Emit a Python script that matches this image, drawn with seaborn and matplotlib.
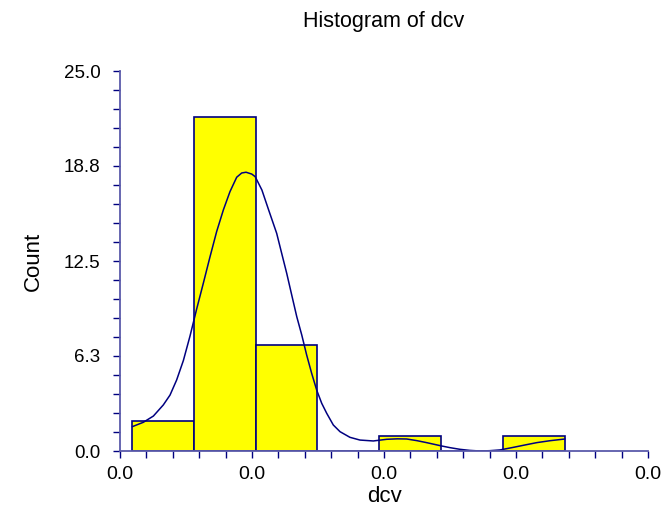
import matplotlib
matplotlib.use("Agg")
import matplotlib.pyplot as plt
from matplotlib.ticker import MultipleLocator
import seaborn as sns

# ---- data ----
bin_edges = [0.00091, 0.00559, 0.01027, 0.01495, 0.01964, 0.02432, 0.02900, 0.03368]
bin_counts = [2, 22, 7, 0, 1, 0, 1]

curve_x = [0.00093, 0.00177, 0.00253, 0.00328, 0.00379, 0.00429, 0.00480, 0.00530,
           0.00581, 0.00631, 0.00682, 0.00732, 0.00783, 0.00833, 0.00884, 0.00922,
           0.00955, 0.00998, 0.01024, 0.01075, 0.01126, 0.01187, 0.01225, 0.01263,
           0.01301, 0.01339, 0.01377, 0.01414, 0.01452, 0.01490, 0.01528, 0.01566,
           0.01616, 0.01667, 0.01742, 0.01818, 0.01919, 0.02020, 0.02100, 0.02172,
           0.02250, 0.02323, 0.02437, 0.02500, 0.02576, 0.02650, 0.02727, 0.02800,
           0.02879, 0.02980, 0.03070, 0.03157, 0.03260, 0.03371]
curve_y = [1.60, 1.89, 2.30, 3.03, 3.68, 4.67, 5.95, 7.55,
           9.35, 11.03, 12.78, 14.43, 15.86, 17.06, 18.01, 18.29,
           18.34, 18.22, 18.05, 17.17, 15.86, 14.32, 13.00, 11.69,
           10.26, 8.84, 7.63, 6.32, 5.11, 4.01, 3.14, 2.48,
           1.71, 1.27, 0.90, 0.72, 0.66, 0.77, 0.80, 0.79,
           0.68, 0.55, 0.33, 0.22, 0.11, 0.04, 0.00, 0.02,
           0.07, 0.24, 0.40, 0.55, 0.68, 0.79]

x_ticks = [0.0, 0.01, 0.02, 0.03, 0.04]
x_tick_labels = ["0.0", "0.0", "0.0", "0.0", "0.0"]
y_ticks = [0.0, 6.25, 12.5, 18.75, 25.0]
y_tick_labels = ["0.0", "6.3", "12.5", "18.8", "25.0"]

title = "Histogram of dcv"
x_label = "dcv"
y_label = "Count"

# ---- style ----
sns.set_style("ticks")
plt.rcParams["font.family"] = ["Liberation Sans", "DejaVu Sans"]
plt.rcParams["text.color"] = "black"
plt.rcParams["axes.labelcolor"] = "black"
plt.rcParams["xtick.labelcolor"] = "black"
plt.rcParams["ytick.labelcolor"] = "black"

navy = "#000080"
spine_col = "#5a5aaa"

fig = plt.figure(figsize=(6.64, 5.14), dpi=100)
ax = fig.add_axes([120 / 664, 63 / 514, 528 / 664, 380 / 514])

centers = [(bin_edges[i] + bin_edges[i + 1]) / 2 for i in range(len(bin_counts))]
sns.histplot(x=centers, weights=bin_counts, bins=bin_edges, ax=ax,
             color="#ffff00", alpha=1.0, edgecolor=navy, linewidth=1.2)
sns.lineplot(x=curve_x, y=curve_y, ax=ax, color=navy, linewidth=1.1)

ax.set_xlim(0, 0.04)
ax.set_ylim(0, 25)
ax.set_xticks(x_ticks)
ax.set_xticklabels(x_tick_labels, fontsize=14)
ax.set_yticks(y_ticks)
ax.set_yticklabels(y_tick_labels, fontsize=13.5)
ax.xaxis.set_minor_locator(MultipleLocator(0.002))
ax.yaxis.set_minor_locator(MultipleLocator(1.25))

for s in ["top", "right"]:
    ax.spines[s].set_visible(False)
for s in ["left", "bottom"]:
    ax.spines[s].set_color(spine_col)
    ax.spines[s].set_linewidth(1.3)

ax.tick_params(which="both", direction="out", length=5, width=1, color=navy)
ax.tick_params(axis="x", which="major", pad=6)
ax.tick_params(axis="y", which="major", pad=9)

ax.set_xlabel(x_label, fontsize=16, labelpad=2, color="black")
ax.set_ylabel(y_label, fontsize=16, labelpad=14, color="black")
fig.text(384 / 664, 1 - 22 / 514, title, fontsize=15.5, ha="center", va="center", color="black")

fig.savefig("out.png", dpi=100)
